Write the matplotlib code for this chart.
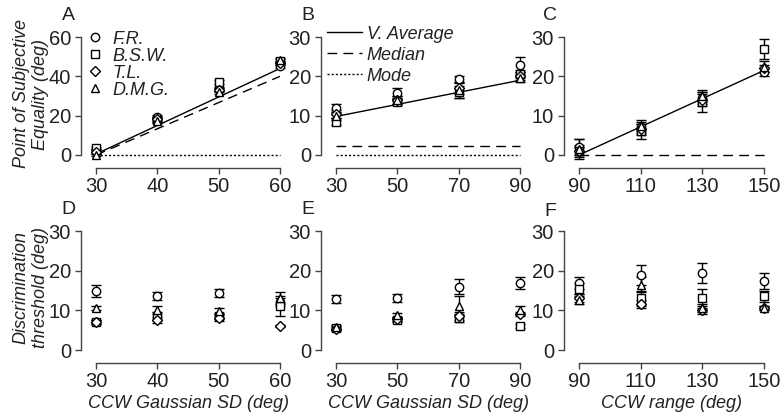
import matplotlib
matplotlib.use("Agg")
import matplotlib.pyplot as plt
from matplotlib.lines import Line2D

plt.rcParams['font.family'] = ['Liberation Sans', 'DejaVu Sans']

subjects = ['F.R.', 'B.S.W.', 'T.L.', 'D.M.G.']
markers = ['o', 's', 'D', '^']
msizes = [6, 6, 4.6, 6]

xA = [30, 40, 50, 60]
xB = [30, 50, 70, 90]
xC = [90, 110, 130, 150]

pse_A = {'F.R.': [2, 19.5, 33.5, 45.5], 'B.S.W.': [3.5, 18, 37, 48],
         'T.L.': [1.5, 18.5, 33, 47], 'D.M.G.': [0, 17.5, 32, 48.5]}
pse_A_err = {'F.R.': [1, 1, 1, 1.5], 'B.S.W.': [0.5, 1, 1, 1],
             'T.L.': [1, 1, 1, 1], 'D.M.G.': [0.5, 1, 1, 1]}
pse_B = {'F.R.': [12, 15.8, 19.2, 23], 'B.S.W.': [8.5, 13.5, 16, 20.5],
         'T.L.': [10.5, 14, 17, 20], 'D.M.G.': [10, 14, 16.5, 19.5]}
pse_B_err = {'F.R.': [1, 1.3, 1, 2], 'B.S.W.': [0.8, 0.8, 1.5, 1],
             'T.L.': [1, 1, 1.5, 1], 'D.M.G.': [1, 1, 2, 1]}
pse_C = {'F.R.': [2, 7, 14.5, 21], 'B.S.W.': [1, 6, 13.5, 27],
         'T.L.': [1, 6.5, 14, 22], 'D.M.G.': [1.5, 7.5, 15, 22.5]}
pse_C_err = {'F.R.': [2, 1.5, 1.5, 1], 'B.S.W.': [1.5, 2, 2.5, 2.5],
             'T.L.': [1, 1.5, 1.5, 1], 'D.M.G.': [2.5, 1.5, 1.5, 1.5]}

thr_D = {'F.R.': [14.8, 13.5, 14.3, 12], 'B.S.W.': [7, 8.5, 8.5, 11],
         'T.L.': [7, 7.5, 8, 6], 'D.M.G.': [10.5, 10, 9.8, 13]}
thr_D_err = {'F.R.': [1.5, 1, 1, 1], 'B.S.W.': [0.5, 1, 0.8, 2.5],
             'T.L.': [0.5, 0.8, 0.8, 0.3], 'D.M.G.': [0.5, 1, 0.8, 1.5]}
thr_E = {'F.R.': [12.8, 13, 16, 17], 'B.S.W.': [5.5, 7.5, 8, 6],
         'T.L.': [5.2, 7.8, 8.5, 9], 'D.M.G.': [5.8, 8.8, 11, 10]}
thr_E_err = {'F.R.': [1, 1, 2, 1.5], 'B.S.W.': [0.5, 0.5, 1, 0.5],
             'T.L.': [0.5, 0.5, 1, 0.5], 'D.M.G.': [0.5, 0.5, 2.5, 1]}
thr_F = {'F.R.': [17, 19, 19.5, 17.5], 'B.S.W.': [15.5, 13, 13, 13.5],
         'T.L.': [13, 11.5, 10, 10.5], 'D.M.G.': [12.5, 16.5, 10.5, 10.5]}
thr_F_err = {'F.R.': [1.5, 2.5, 2.5, 2], 'B.S.W.': [1.5, 2, 2.5, 1.5],
             'T.L.': [1, 1, 1, 0.5], 'D.M.G.': [1, 2, 1, 0.5]}

# model predictions (endpoints of lines)
vavg_A = [0.5, 44]; median_A = [0, 40]; mode_A = [0, 0]
vavg_B = [9.8, 19]; median_B = [2.2, 2.2]; mode_B = [0, 0]
vavg_C = [0, 21.5]; median_C = [0, 0]

W, H = 783, 418
fig = plt.figure(figsize=(W / 100, H / 100), dpi=100)

GRAY = '#444444'
TXT = '#222222'
MED_DASH = (7, 4.5)
MODE_DASH = (1.5, 1.5)


def make_ax(x0, x1, y0, y1):
    ax = fig.add_axes([x0 / W, 1 - y0 / H, (x1 - x0) / W, (y0 - y1) / H])
    for s in ['top', 'right']:
        ax.spines[s].set_visible(False)
    ax.spines['left'].set_position(('outward', 11))
    ax.spines['bottom'].set_position(('outward', 9))
    for s in ['left', 'bottom']:
        ax.spines[s].set_color(GRAY)
        ax.spines[s].set_linewidth(1)
    ax.tick_params(direction='out', length=4, width=1, color=GRAY,
                   labelsize=14.5, labelcolor=TXT, pad=3)
    ax.patch.set_visible(False)
    return ax


def scatter_subjects(ax, x, vals, errs):
    for s, m, ms in zip(subjects, markers, msizes):
        ax.errorbar(x, vals[s], yerr=errs[s], fmt=m, ms=ms, mfc='white',
                    mec='black', mew=1, ecolor='black', elinewidth=1,
                    capsize=3.5, capthick=1, clip_on=False, zorder=3)


def model_line(ax, x, y, **kw):
    ax.plot([x[0], x[-1]], y, color='black', lw=1, clip_on=False, zorder=2, **kw)


top_y0, top_y1 = 155, 37
bot_y0, bot_y1 = 350, 231
cols = [(96, 280), (336, 520), (579, 764)]

axA = make_ax(*cols[0], top_y0, top_y1)
axB = make_ax(*cols[1], top_y0, top_y1)
axC = make_ax(*cols[2], top_y0, top_y1)
axD = make_ax(*cols[0], bot_y0, bot_y1)
axE = make_ax(*cols[1], bot_y0, bot_y1)
axF = make_ax(*cols[2], bot_y0, bot_y1)

# Panel A
model_line(axA, xA, vavg_A)
model_line(axA, xA, median_A, dashes=MED_DASH)
model_line(axA, xA, mode_A, dashes=MODE_DASH)
scatter_subjects(axA, xA, pse_A, pse_A_err)
axA.set_xlim(30, 60); axA.set_ylim(0, 60)
axA.set_xticks(xA); axA.set_yticks([0, 20, 40, 60])
axA.spines['left'].set_bounds(0, 60); axA.spines['bottom'].set_bounds(30, 60)

# Panel B
model_line(axB, xB, vavg_B)
model_line(axB, xB, median_B, dashes=MED_DASH)
model_line(axB, xB, mode_B, dashes=MODE_DASH)
scatter_subjects(axB, xB, pse_B, pse_B_err)
axB.set_xlim(30, 90); axB.set_ylim(0, 30)
axB.set_xticks(xB); axB.set_yticks([0, 10, 20, 30])
axB.spines['left'].set_bounds(0, 30); axB.spines['bottom'].set_bounds(30, 90)

# Panel C
model_line(axC, xC, vavg_C)
model_line(axC, xC, median_C, dashes=MED_DASH)
scatter_subjects(axC, xC, pse_C, pse_C_err)
axC.set_xlim(90, 150); axC.set_ylim(0, 30)
axC.set_xticks(xC); axC.set_yticks([0, 10, 20, 30])
axC.spines['left'].set_bounds(0, 30); axC.spines['bottom'].set_bounds(90, 150)

# Bottom panels
for ax, x, vals, errs in [(axD, xA, thr_D, thr_D_err), (axE, xB, thr_E, thr_E_err),
                          (axF, xC, thr_F, thr_F_err)]:
    scatter_subjects(ax, x, vals, errs)
    ax.set_xlim(x[0], x[-1]); ax.set_ylim(0, 30)
    ax.set_xticks(x); ax.set_yticks([0, 10, 20, 30])
    ax.spines['left'].set_bounds(0, 30); ax.spines['bottom'].set_bounds(x[0], x[-1])

# Legend A (subjects)
handlesA = [Line2D([], [], ls='none', marker=m, ms=ms, mfc='white', mec='black', mew=1)
            for m, ms in zip(markers, msizes)]
legA = axA.legend(handlesA, subjects, loc='upper left',
                  bbox_to_anchor=((86 - 96) / 184, 1.055),
                  frameon=False, handlelength=1.0, handletextpad=0.45, labelspacing=0.0,
                  borderpad=0, borderaxespad=0,
                  prop={'style': 'italic', 'size': 13})
for t in legA.get_texts():
    t.set_color(TXT)

# Legend B (models)
handlesB = [Line2D([], [], color='black', lw=1),
            Line2D([], [], color='black', lw=1, dashes=MED_DASH),
            Line2D([], [], color='black', lw=1, dashes=MODE_DASH)]
legB = axB.legend(handlesB, ['V. Average', 'Median', 'Mode'], loc='upper left',
                  bbox_to_anchor=((327 - 336) / 184, 1.095), frameon=False,
                  handlelength=1.95, handletextpad=0.25, labelspacing=0.22,
                  borderpad=0, borderaxespad=0,
                  prop={'style': 'italic', 'size': 13})
for t in legB.get_texts():
    t.set_color(TXT)

# Axis labels
fig.text(31 / W, 1 - 94 / H, 'Point of Subjective\nEquality (deg)', rotation=90,
         ha='center', va='center', multialignment='center', fontsize=13,
         style='italic', color=TXT)
fig.text(31 / W, 1 - 288 / H, 'Discrimination\nthreshold (deg)', rotation=90,
         ha='center', va='center', multialignment='center', fontsize=13,
         style='italic', color=TXT)
for (x0, x1), lab in zip(cols, ['CCW Gaussian SD (deg)', 'CCW Gaussian SD (deg)',
                                'CCW range (deg)']):
    fig.text((x0 + x1) / 2 / W, 1 - 403 / H, lab, ha='center', va='center',
             fontsize=13, style='italic', color=TXT)

# Panel letters
for lab, (px, py) in zip('ABCDEF', [(68, 15), (308, 15), (550, 15),
                                    (68, 210), (308, 210), (550, 211)]):
    fig.text(px / W, 1 - py / H, lab, ha='center', va='center', fontsize=14, color=TXT)

fig.savefig('out.png', dpi=100)
